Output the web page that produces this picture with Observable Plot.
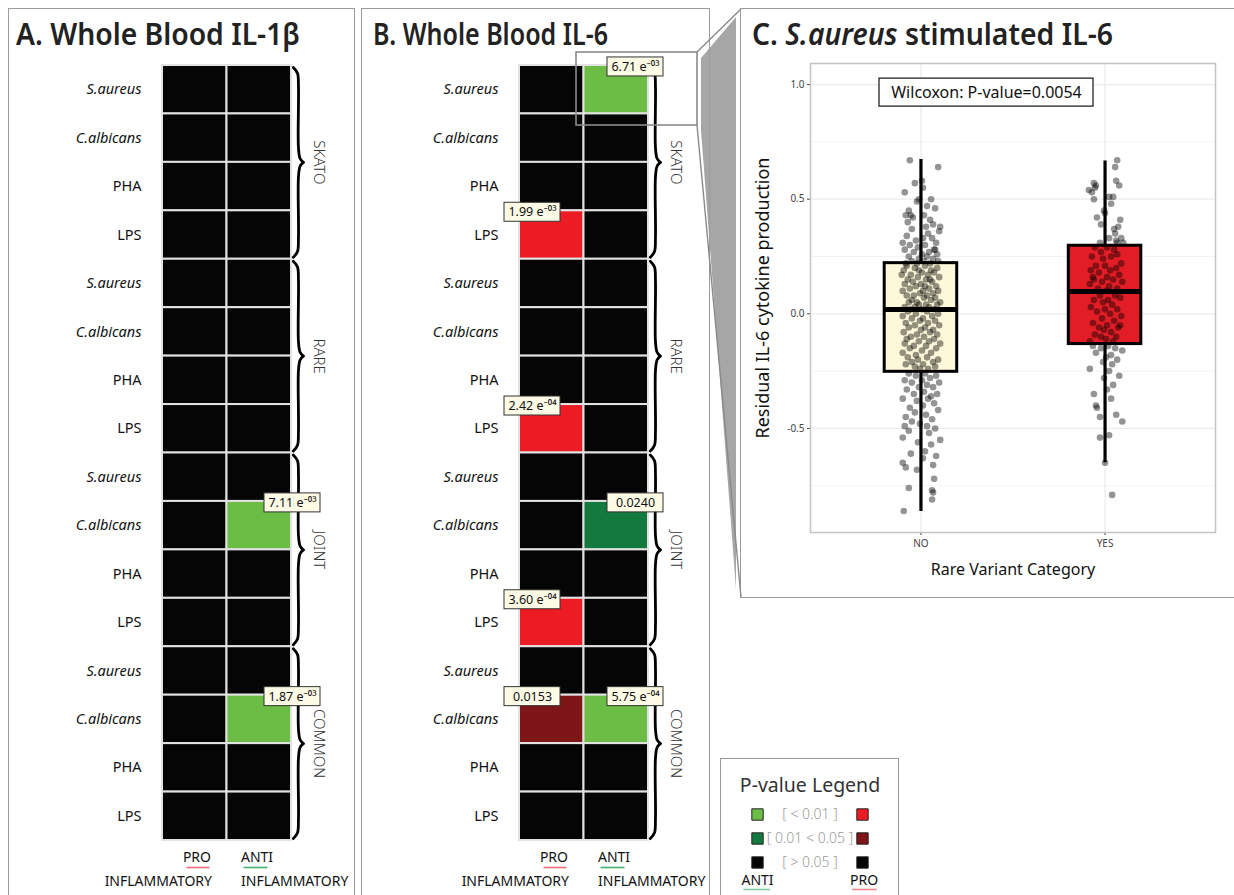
<!DOCTYPE html>
<html>
<head>
<meta charset="utf-8">
<script src="https://cdn.jsdelivr.net/npm/d3@7"></script>
<script src="https://cdn.jsdelivr.net/npm/@observablehq/plot@0.6"></script>
<style>
  body { margin: 0; background: #fff; }
  #root { position: relative; width: 1234px; height: 895px; overflow: hidden; background: #fff;
          font-family: "Noto Sans", "Open Sans", sans-serif; color: #222; }
  .panel { position: absolute; border: 1.5px solid #9b9b9b; box-sizing: border-box; }
  .title { position: absolute; font-weight: 600; font-size: 31px; line-height: 1; white-space: nowrap;
           color: #222; transform-origin: left center; }
  .plot { position: absolute; top: 0; }
  .plot svg { overflow: visible; }
</style>
</head>
<body>
<div id="root"></div>
<script>
// ---------------- DATA ----------------
const groups = ["SKATO", "RARE", "JOINT", "COMMON"];
const stimuli = ["S.aureus", "C.albicans", "PHA", "LPS"];
const italicStimuli = ["S.aureus", "C.albicans"];
const directions = ["PRO", "ANTI"];

// p-values, one per row (groups × stimuli, top to bottom); null = not significant (> 0.05)
const il1bPro  = [null, null, null, null,  null, null, null, null,  null, null, null, null,  null, null, null, null];
const il1bAnti = [null, null, null, null,  null, null, null, null,  null, 7.11e-3, null, null,  null, 1.87e-3, null, null];
const il6Pro   = [null, null, null, 1.99e-3,  null, null, null, 2.42e-4,  null, null, null, 3.60e-4,  null, 0.0153, null, null];
const il6Anti  = [6.71e-3, null, null, null,  null, null, null, null,  null, 0.0240, null, null,  null, 5.75e-4, null, null];

// panel C: boxplot statistics per category
const categories = ["NO", "YES"];
const boxLower   = [-0.253, -0.132];
const boxMedian  = [0.019, 0.097];
const boxUpper   = [0.221, 0.297];
const whiskerLow = [-0.862, -0.650];
const whiskerHigh= [0.673, 0.667];
const boxFills   = ["#fef8da", "#e31d25"];
const wilcoxonText = "Wilcoxon: P-value=0.0054";

// panel C: individual observations [jitter (-1..1), residual]
const noPoints = [
  [-0.55,0.67],[0.85,0.64],[0.05,0.58],[-0.3,0.57],[0.1,0.55],[-0.8,0.53],[-0.1,0.50],[0.5,0.50],[-0.2,0.49],[0.3,0.47],
  [0.7,0.46],[-0.6,0.45],[-0.75,0.43],[-0.5,0.43],[0.15,0.43],[-0.4,0.42],[0.45,0.41],[-0.65,0.40],[0.6,0.39],[0.25,0.38],
  [-0.45,0.37],[0.9,0.36],[0.35,0.35],[-0.7,0.34],[0.1,0.33],[0.55,0.33],[-0.25,0.32],[0.75,0.31],[-0.55,0.30],[0.2,0.30],
  [-0.15,0.29],[0.65,0.28],[-0.8,0.28],[0.4,0.27],[-0.35,0.27],[0.05,0.26],[0.8,0.26],[-0.6,0.25],[0.3,0.25],[-0.1,0.24],
  [0.6,0.24],[-0.45,0.23],[0.15,0.23],[0.85,0.23],[-0.75,0.22],[-0.2,0.22],[0.45,0.22],[0.7,0.28],[-0.9,0.31],[0.95,0.38],
  [-0.7,0.21],[0.2,0.21],[0.8,0.20],[-0.3,0.20],[0.5,0.19],[-0.85,0.19],[0.05,0.18],[0.65,0.18],[-0.5,0.17],[0.35,0.17],
  [-0.15,0.16],[0.9,0.16],[-0.65,0.15],[0.25,0.15],[0.55,0.14],[-0.4,0.14],[0.0,0.13],[-0.8,0.13],[0.75,0.12],[-0.25,0.12],
  [0.4,0.11],[-0.55,0.11],[0.1,0.10],[0.85,0.10],[-0.9,0.10],[-0.05,0.09],[0.6,0.09],[-0.35,0.08],[0.3,0.08],[-0.7,0.08],
  [0.7,0.07],[0.15,0.07],[-0.45,0.06],[0.5,0.06],[-0.2,0.05],[0.95,0.05],[-0.6,0.05],[0.25,0.04],[-0.1,0.04],[0.8,0.04],
  [-0.8,0.03],[0.4,0.03],[-0.3,0.03],[0.05,0.02],[0.65,0.02],[-0.5,0.02],[0.2,0.12],[-0.95,0.17],[0.45,0.15],[-0.1,0.19],
  [-0.65,0.01],[0.3,0.01],[0.85,0.00],[-0.25,0.00],[0.55,-0.01],[-0.9,-0.01],[0.1,-0.02],[-0.45,-0.02],[0.7,-0.03],[-0.05,-0.03],
  [0.35,-0.04],[-0.75,-0.04],[0.9,-0.05],[-0.3,-0.05],[0.2,-0.06],[-0.6,-0.06],[0.6,-0.07],[0.0,-0.07],[-0.85,-0.08],[0.45,-0.08],
  [-0.2,-0.09],[0.8,-0.09],[-0.5,-0.10],[0.15,-0.10],[-0.7,-0.11],[0.65,-0.11],[-0.1,-0.12],[0.4,-0.12],[-0.8,-0.13],[0.95,-0.13],
  [-0.35,-0.14],[0.25,-0.14],[-0.55,-0.15],[0.75,-0.15],[0.05,-0.16],[-0.9,-0.17],[0.5,-0.17],[-0.25,-0.18],[0.3,-0.19],[-0.65,-0.19],
  [0.85,-0.20],[-0.15,-0.20],[0.6,-0.21],[-0.45,-0.21],[0.1,-0.22],[-0.75,-0.22],[0.7,-0.23],[-0.3,-0.23],[0.35,-0.24],[-0.05,-0.24],
  [-0.6,-0.26],[0.2,-0.26],[0.75,-0.27],[-0.25,-0.27],[0.45,-0.28],[-0.8,-0.29],[0.05,-0.29],[0.9,-0.30],[-0.45,-0.30],[0.3,-0.31],
  [-0.1,-0.32],[0.6,-0.32],[-0.7,-0.33],[0.15,-0.34],[0.8,-0.35],[-0.35,-0.35],[0.5,-0.36],[-0.9,-0.37],[0.35,-0.37],[-0.2,-0.38],
  [0.65,-0.39],[0.1,-0.40],[-0.55,-0.41],[0.85,-0.42],[-0.3,-0.43],[0.25,-0.44],[-0.75,-0.45],[0.55,-0.46],[-0.45,-0.47],[-0.05,-0.48],
  [-0.8,-0.49],[0.7,-0.50],[-0.6,-0.51],[0.4,-0.52],[-0.9,-0.54],[0.95,-0.55],[-0.15,-0.56],[0.5,-0.57],[0.2,-0.60],[-0.5,-0.61],
  [0.75,-0.62],[0.1,-0.63],[-0.9,-0.65],[0.6,-0.66],[-0.75,-0.67],[-0.2,-0.68],[0.65,-0.72],[-0.6,-0.76],[0.55,-0.77],[-0.85,-0.86],
  [0.55,-0.81],[0.3,-0.49],[0.6,-0.78]
];
const yesPoints = [
  [0.6,0.67],[0.5,0.64],[-0.55,0.57],[-0.45,0.56],[-0.5,0.55],[0.55,0.58],[0.7,0.56],[-0.65,0.53],[0.4,0.51],[0.2,0.51],
  [-0.55,0.50],[0.0,0.44],[-0.4,0.42],[0.75,0.41],[-0.2,0.39],[0.45,0.37],[0.65,0.38],[0.2,0.33],[0.8,0.33],[-0.25,0.31],
  [0.6,0.31],[0.9,0.31],[0.5,0.35],[-0.05,0.45],[0.3,0.48],[-0.8,0.54],[0.55,0.32],
  [-0.5,0.29],[0.1,0.29],[0.45,0.28],[-0.2,0.27],[0.6,0.26],[-0.65,0.25],[0.3,0.25],[-0.1,0.24],[0.8,0.22],[-0.45,0.21],
  [0.0,0.21],[0.55,0.20],[-0.7,0.19],[0.25,0.19],[-0.3,0.18],[0.7,0.17],[0.1,0.16],[-0.55,0.15],[0.4,0.15],[-0.15,0.14],
  [0.85,0.14],[-0.75,0.13],[0.2,0.12],[-0.35,0.11],[0.6,0.11],[0.05,0.10],[-0.6,0.16],
  [0.5,0.08],[-0.25,0.08],[0.75,0.07],[-0.55,0.06],[0.15,0.06],[-0.1,0.05],[0.35,0.04],[-0.7,0.03],[0.6,0.02],[0.0,0.02],
  [-0.4,0.01],[0.25,0.00],[0.8,-0.01],[-0.15,-0.02],[0.45,-0.03],[-0.6,-0.04],[0.1,-0.05],[-0.3,-0.06],[0.65,-0.06],[-0.05,-0.07],
  [0.3,-0.08],[-0.5,-0.09],[0.55,-0.10],[-0.2,-0.10],[0.05,-0.11],[-0.75,-0.12],[0.4,-0.12],[0.75,-0.05],
  [-0.6,-0.14],[0.15,-0.14],[0.5,-0.15],[-0.2,-0.15],[0.85,-0.16],[-0.45,-0.17],[0.3,-0.18],[0.05,-0.19],[0.6,-0.20],[-0.1,-0.21],
  [0.35,-0.22],[-0.75,-0.24],[0.2,-0.25],[0.7,-0.27],[-0.05,-0.28],[0.4,-0.31],[0.1,-0.33],[-0.55,-0.35],[0.3,-0.37],[-0.45,-0.40],
  [-0.4,-0.41],[0.55,-0.44],[-0.25,-0.45],[0.85,-0.47],[-0.25,-0.54],[0.2,-0.53],[0.0,-0.65],[0.35,-0.79]
];

// legend
const legendBins = ["[ < 0.01 ]", "[ 0.01 < 0.05 ]", "[ > 0.05 ]"];

// ---------------- STYLE ----------------
const FONT = '"Noto Sans", "Open Sans", sans-serif';
const colorAnti = {strong: "#6cbd45", weak: "#137a3f"};
const colorPro  = {strong: "#ed1c24", weak: "#7e1517"};
const colorNS   = "#050505";
const legendAnti = [colorAnti.strong, colorAnti.weak, colorNS];
const legendPro  = [colorPro.strong, colorPro.weak, colorNS];

const sup = {"-": "\u207B", "0": "\u2070", "1": "\u00B9", "2": "\u00B2", "3": "\u00B3", "4": "\u2074",
             "5": "\u2075", "6": "\u2076", "7": "\u2077", "8": "\u2078", "9": "\u2079"};
function fmtP(p) {
  if (p >= 0.01) return p.toFixed(4);
  const [m, e] = p.toExponential(2).split("e");
  const n = +e;
  const es = (n < 0 ? "-" : "") + String(Math.abs(n)).padStart(2, "0");
  return m + " e" + [...es].map(c => sup[c]).join("");
}

const root = document.getElementById("root");
function addDiv(cls, css, html) {
  const d = document.createElement("div");
  if (cls) d.className = cls;
  Object.assign(d.style, css);
  if (html != null) d.innerHTML = html;
  root.appendChild(d);
  return d;
}

// ---------------- HEATMAP PANELS ----------------
function heatmap(pro, anti, labelInset) {
  const W = 360, H = 895, mL = 162, mR = 69, mT = 65, mB = 55;
  const colPx = (W - mL - mR) / 2;
  const rows = groups.flatMap((g, gi) => stimuli.map((s, si) => ({group: g, stim: s, row: gi * 4 + si})));
  const cells = rows.flatMap(r => directions.map((d, ci) => ({...r, dir: d, col: ci, p: (d === "PRO" ? pro : anti)[r.row]})));
  const fillOf = c => (c.p == null || c.p > 0.05) ? colorNS
      : (c.dir === "PRO" ? colorPro : colorAnti)[c.p < 0.01 ? "strong" : "weak"];
  const sig = cells.filter(c => c.p != null && c.p <= 0.05);
  const labelX = c => c.dir === "PRO" ? c.col + labelInset / colPx : c.col + 1 - labelInset / colPx;
  const labelY = c => c.row + 0.03;

  // curly braces, one per group, built from the group's row span
  const bx = 2.108, tip = 0.075, curl = 0.08;
  const brace = groups.flatMap((g, gi) => {
    const a = gi * 4, m = a + 2, b = a + 4;
    const half = (tag, y0, s) => [
      {x: bx - curl, y: y0},
      {x: bx - 0.015, y: y0 + s * 0.12},
      {x: bx, y: y0 + s * 0.4},
      {x: bx, y: m - s * 0.3},
      {x: bx + 0.025, y: m - s * 0.08},
      {x: bx + tip, y: m}
    ].map(p => ({...p, z: g + tag}));
    return [...half("a", a + 0.04, 1), ...half("b", b - 0.04, -1)];
  });

  return Plot.plot({
    width: W, height: H, marginLeft: mL, marginRight: mR, marginTop: mT, marginBottom: mB,
    x: {domain: [0, 2], axis: null},
    y: {domain: [0, 16], reverse: true, axis: null},
    style: {background: "transparent", fontFamily: FONT, overflow: "visible"},
    marks: [
      Plot.rect(cells, {x1: "col", x2: d => d.col + 1, y1: "row", y2: d => d.row + 1,
                        fill: fillOf, stroke: "#e2e2e2", strokeWidth: 2}),
      Plot.text(rows.filter(r => italicStimuli.includes(r.stim)), {x: 0, y: d => d.row + 0.5, text: "stim",
                dx: -21, textAnchor: "end", fontStyle: "italic", fontSize: 14.5, fill: "#111"}),
      Plot.text(rows.filter(r => !italicStimuli.includes(r.stim)), {x: 0, y: d => d.row + 0.5, text: "stim",
                dx: -21, textAnchor: "end", fontSize: 14.5, fill: "#111"}),
      Plot.line(brace, {x: "x", y: "y", z: "z", curve: "catmull-rom", stroke: "#000", strokeWidth: 2.8}),
      Plot.text(groups, {x: 2.42, y: (d, i) => i * 4 + 2, rotate: 90, fontSize: 15, fill: "#333", fontWeight: 300}),
      Plot.text(["PRO"], {x: 1, y: 16, dx: -16, dy: 17, textAnchor: "end", fontSize: 14, fill: "#111"}),
      Plot.text(["INFLAMMATORY"], {x: 1, y: 16, dx: -15, dy: 41, textAnchor: "end", fontSize: 14, fill: "#111"}),
      Plot.text(["ANTI"], {x: 1, y: 16, dx: 14, dy: 17, textAnchor: "start", fontSize: 14, fill: "#111"}),
      Plot.text(["INFLAMMATORY"], {x: 1, y: 16, dx: 14, dy: 41, textAnchor: "start", fontSize: 14, fill: "#111"}),
      Plot.ruleY([16], {x1: 1 - 40 / colPx, x2: 1 - 17 / colPx, dy: 27, stroke: "#ea6f76", strokeWidth: 1.6}),
      Plot.ruleY([16], {x1: 1 + 17 / colPx, x2: 1 + 41 / colPx, dy: 27, stroke: "#43b06f", strokeWidth: 1.6}),
      Plot.rect(sig, {x1: labelX, x2: labelX, y1: labelY, y2: labelY,
                      insetLeft: -28, insetRight: -28, insetTop: -9.5, insetBottom: -9.5,
                      fill: "#fdfbe6", stroke: "#333", strokeWidth: 1}),
      Plot.text(sig, {x: labelX, y: labelY, text: d => fmtP(d.p), fontSize: 12.5, fill: "#111"})
    ]
  });
}

// ---------------- PANEL C ----------------
function boxPanel() {
  const jitterWidth = 0.11, halfBox = 0.197;
  const boxes = categories.map((c, i) => ({cat: c, x: i + 1, lo: boxLower[i], med: boxMedian[i], hi: boxUpper[i],
                                           wlo: whiskerLow[i], whi: whiskerHigh[i], fill: boxFills[i]}));
  const pts = [...noPoints.map(p => ({x: 1 + p[0] * jitterWidth, y: p[1]})),
               ...yesPoints.map(p => ({x: 2 + p[0] * jitterWidth, y: p[1]}))];
  return Plot.plot({
    width: 494, height: 600, marginLeft: 70, marginRight: 19, marginTop: 63, marginBottom: 68,
    x: {domain: [0.4, 2.6], ticks: [1, 2], tickFormat: d => categories[d - 1], tickSize: 3, tickPadding: 4, label: null},
    y: {domain: [-0.954, 1.092], ticks: [-0.5, 0, 0.5, 1], tickFormat: d => d.toFixed(1), tickSize: 3, tickPadding: 3, label: null},
    style: {background: "transparent", fontFamily: FONT, fontSize: "10px", color: "#444", overflow: "visible"},
    marks: [
      Plot.ruleY([-0.75, -0.25, 0.25, 0.75], {stroke: "#f3f3f3", strokeWidth: 1}),
      Plot.ruleY([-0.5, 0, 0.5, 1], {stroke: "#ebebeb", strokeWidth: 1.3}),
      Plot.ruleX([1, 2], {stroke: "#ebebeb", strokeWidth: 1.3}),
      Plot.frame({stroke: "#c4c4c4", strokeWidth: 1.5}),
      Plot.ruleX(boxes, {x: "x", y1: "wlo", y2: "whi", stroke: "#000", strokeWidth: 3.2}),
      Plot.rect(boxes, {x1: d => d.x - halfBox, x2: d => d.x + halfBox, y1: "lo", y2: "hi",
                        fill: "fill", stroke: "#000", strokeWidth: 3}),
      Plot.dot(pts, {x: "x", y: "y", r: 3.3, fill: "#000", fillOpacity: 0.42}),
      Plot.ruleY(boxes, {y: "med", x1: d => d.x - halfBox, x2: d => d.x + halfBox, stroke: "#000", strokeWidth: 5}),
      Plot.rect([wilcoxonText], {x1: 1.356, x2: 1.356, y1: 0.965, y2: 0.965,
                                 insetLeft: -107, insetRight: -107, insetTop: -14, insetBottom: -14,
                                 fill: "#fff", stroke: "#111", strokeWidth: 1.2}),
      Plot.text([wilcoxonText], {x: 1.356, y: 0.965, fontSize: 16, fill: "#111"}),
      Plot.text(["Residual IL-6 cytokine production"], {frameAnchor: "left", textAnchor: "middle", dx: -47, rotate: -90,
                fontSize: 18, fill: "#111"}),
      Plot.text(["Rare Variant Category"], {frameAnchor: "bottom", dy: 42, fontSize: 16, fill: "#111"})
    ]
  });
}

// ---------------- LEGEND ----------------
function legendPlot() {
  return Plot.plot({
    width: 178, height: 139, margin: 0,
    x: {domain: [0, 2], range: [37, 142], axis: null},
    y: {domain: [0, 3], range: [58, 130], axis: null},
    style: {background: "transparent", fontFamily: FONT, overflow: "visible"},
    marks: [
      Plot.text(["P-value Legend"], {x: 1, y: -1.2, fontSize: 19.5, fill: "#333"}),
      Plot.dot(legendBins, {x: 0, y: (d, i) => i, symbol: "square", r: 6.4, fill: (d, i) => legendAnti[i], stroke: "#222", strokeWidth: 1}),
      Plot.dot(legendBins, {x: 2, y: (d, i) => i, symbol: "square", r: 6.4, fill: (d, i) => legendPro[i], stroke: "#222", strokeWidth: 1}),
      Plot.text(legendBins, {x: 1, y: (d, i) => i, fontSize: 14, fill: "#9a9a9a", fontWeight: 300}),
      Plot.text(["ANTI", "PRO"], {x: (d, i) => i * 2.03, y: 2.75, fontSize: 14, fill: "#111"}),
      Plot.ruleY([3.125], {x1: -0.26, x2: 0.25, stroke: "#86cfa6", strokeWidth: 1.6}),
      Plot.ruleY([3.125], {x1: 1.81, x2: 2.28, stroke: "#f08a90", strokeWidth: 1.6})
    ]
  });
}

// ---------------- ASSEMBLY ----------------
const ns = "http://www.w3.org/2000/svg";
function svgOverlay(inner) {
  const s = document.createElementNS(ns, "svg");
  s.setAttribute("width", 1234); s.setAttribute("height", 895);
  s.style.position = "absolute"; s.style.left = "0"; s.style.top = "0"; s.style.pointerEvents = "none";
  s.innerHTML = inner;
  root.appendChild(s);
}
// zoom connector wedge (behind panels)
svgOverlay(`<polygon points="701,58 736,17 736,589 701,130" fill="#a6a6a6"/>`);

addDiv("panel", {left: "8px", top: "8px", width: "347px", height: "900px"});
addDiv("panel", {left: "361px", top: "8px", width: "349px", height: "900px"});
addDiv("panel", {left: "740px", top: "8px", width: "510px", height: "590px"});
addDiv("panel", {left: "720px", top: "758px", width: "179px", height: "200px"});

const pA = addDiv("plot", {left: "0px"}); pA.appendChild(heatmap(il1bPro, il1bAnti, -1));
const pB = addDiv("plot", {left: "357px"}); pB.appendChild(heatmap(il6Pro, il6Anti, 13));
const pC = addDiv("plot", {left: "740px"}); pC.appendChild(boxPanel());
const pL = addDiv("plot", {left: "720px", top: "756px"}); pL.appendChild(legendPlot());

// zoom highlight rectangle and connector lines (on top)
svgOverlay(`<rect x="576" y="52" width="121" height="73" fill="none" stroke="#8a8a8a" stroke-width="1.6"/>
  <line x1="697" y1="52" x2="741" y2="9" stroke="#8a8a8a" stroke-width="1.4"/>
  <line x1="697" y1="125" x2="741" y2="597" stroke="#8a8a8a" stroke-width="1.4"/>`);

// titles
function title(html, left, top, target) {
  const t = addDiv("title", {left: left + "px", top: top + "px"}, html);
  const w = t.getBoundingClientRect().width;
  if (w > 0) t.style.transform = `scaleX(${target / w})`;
  return t;
}
title("A. Whole Blood IL-1β", 16, 18, 284);
title("B. Whole Blood IL-6", 373, 18, 235);
title("C. <i>S.aureus</i> stimulated IL-6", 752, 18, 361);
</script>
</body>
</html>
